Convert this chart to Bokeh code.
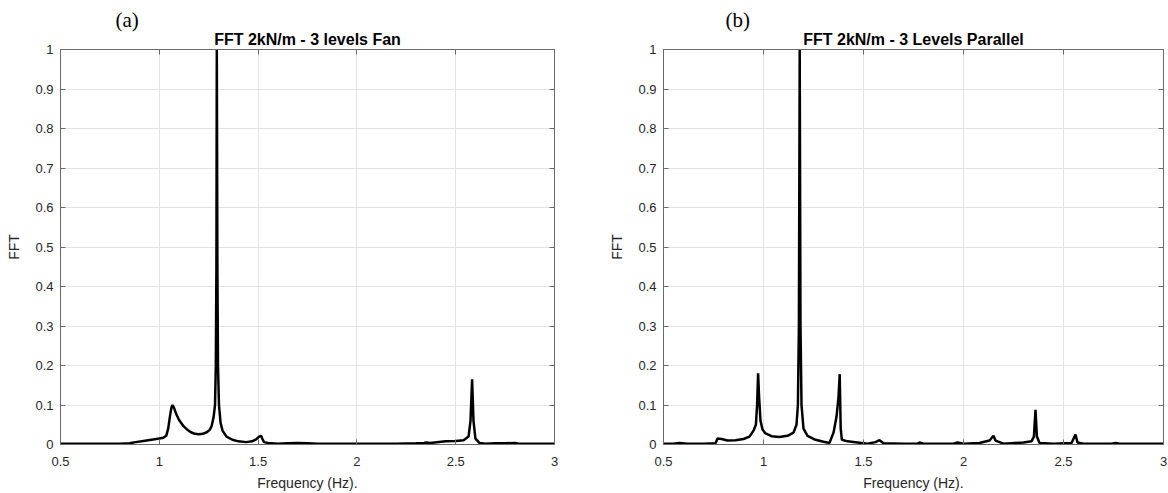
from bokeh.plotting import figure
from bokeh.models import LinearAxis, Range1d, FixedTicker, PrintfTickFormatter, Title, CustomJSTickFormatter
from bokeh.layouts import row
from bokeh.embed import file_html
from bokeh.resources import INLINE

# ---- data ----
freq_a = [0.5, 0.55, 0.6, 0.65, 0.7, 0.75, 0.8, 0.85, 0.88, 0.92, 0.96, 1.0, 1.02, 1.035,
          1.045, 1.055, 1.062, 1.067, 1.075, 1.085, 1.1, 1.12, 1.14, 1.16, 1.18, 1.2, 1.22,
          1.24, 1.255, 1.265, 1.275, 1.282, 1.286, 1.289, 1.291, 1.294, 1.297, 1.302, 1.31,
          1.32, 1.34, 1.37, 1.4, 1.44, 1.47, 1.49, 1.505, 1.515, 1.522, 1.53, 1.55, 1.6,
          1.65, 1.7, 1.75, 1.8, 1.9, 2.0, 2.1, 2.2, 2.3, 2.34, 2.35, 2.37, 2.45, 2.5, 2.54,
          2.565, 2.575, 2.583, 2.59, 2.6, 2.62, 2.65, 2.7, 2.75, 2.8, 2.82, 2.9, 3.0]
fft_a = [0.002, 0.002, 0.002, 0.002, 0.002, 0.002, 0.002, 0.003, 0.006, 0.009, 0.012, 0.015,
         0.017, 0.022, 0.04, 0.075, 0.095, 0.1, 0.092, 0.078, 0.062, 0.048, 0.038, 0.031,
         0.027, 0.026, 0.027, 0.031, 0.037, 0.047, 0.07, 0.1, 0.2, 0.45, 1.0, 0.45, 0.2,
         0.1, 0.055, 0.035, 0.02, 0.012, 0.008, 0.006, 0.008, 0.013, 0.02, 0.022, 0.014,
         0.006, 0.004, 0.002, 0.003, 0.004, 0.003, 0.002, 0.002, 0.002, 0.002, 0.002,
         0.003, 0.004, 0.005, 0.004, 0.008, 0.009, 0.011, 0.02, 0.06, 0.165, 0.06, 0.015,
         0.004, 0.002, 0.003, 0.003, 0.004, 0.002, 0.002, 0.002]

freq_b = [0.5, 0.55, 0.58, 0.62, 0.7, 0.76, 0.77, 0.79, 0.82, 0.86, 0.9, 0.93, 0.95, 0.962,
          0.968, 0.973, 0.978, 0.985, 0.995, 1.01, 1.04, 1.08, 1.12, 1.15, 1.165, 1.172,
          1.177, 1.181, 1.185, 1.19, 1.2, 1.22, 1.26, 1.3, 1.33, 1.35, 1.365, 1.375, 1.381,
          1.386, 1.392, 1.42, 1.47, 1.52, 1.56, 1.58, 1.6, 1.7, 1.77, 1.78, 1.8, 1.95, 1.97,
          2.0, 2.08, 2.13, 2.15, 2.16, 2.18, 2.2, 2.3, 2.34, 2.352, 2.36, 2.367, 2.38, 2.45,
          2.54, 2.56, 2.57, 2.6, 2.74, 2.76, 2.78, 3.0]
fft_b = [0.002, 0.002, 0.004, 0.002, 0.002, 0.003, 0.015, 0.014, 0.01, 0.011, 0.014, 0.02,
         0.035, 0.05, 0.1, 0.18, 0.12, 0.06, 0.038, 0.028, 0.021, 0.019, 0.022, 0.03, 0.05,
         0.1, 0.3, 1.0, 0.3, 0.1, 0.04, 0.022, 0.012, 0.007, 0.004, 0.03, 0.07, 0.12, 0.178,
         0.04, 0.012, 0.008, 0.005, 0.002, 0.006, 0.011, 0.003, 0.002, 0.002, 0.005, 0.002,
         0.002, 0.005, 0.002, 0.004, 0.01, 0.022, 0.01, 0.006, 0.002, 0.005, 0.008, 0.02,
         0.088, 0.02, 0.004, 0.002, 0.004, 0.025, 0.005, 0.002, 0.002, 0.004, 0.002, 0.002]

x_ticks = [0.5, 1.0, 1.5, 2.0, 2.5, 3.0]
y_ticks = [0, 0.1, 0.2, 0.3, 0.4, 0.5, 0.6, 0.7, 0.8, 0.9, 1.0]
titles = ["FFT 2kN/m - 3 levels Fan", "FFT 2kN/m - 3 Levels Parallel"]
tags = ["(a)", "(b)"]
x_label = "Frequency (Hz)."
y_label = "FFT"

AX = "#6a6a6a"
TXT = "#262626"
FONT = "Liberation Sans"


def style_axis(ax):
    ax.major_tick_in = 5
    ax.major_tick_out = 0
    ax.minor_tick_line_color = None
    ax.axis_line_color = AX
    ax.major_tick_line_color = AX
    ax.major_label_text_font = FONT
    ax.major_label_text_font_size = "13px"
    ax.major_label_text_color = TXT


def make(fx, fy, title, tag, width, mbl, mbr, tag_off):
    p = figure(width=width, height=493, x_range=Range1d(0.5, 3), y_range=Range1d(0, 1),
               output_backend="svg", toolbar_location=None,
               min_border_left=mbl, min_border_right=mbr,
               min_border_top=49, min_border_bottom=49)
    p.outline_line_color = AX
    p.background_fill_color = "white"
    p.border_fill_color = "white"

    xt = FixedTicker(ticks=x_ticks)
    yt = FixedTicker(ticks=y_ticks)

    p.xaxis.ticker = xt
    p.yaxis.ticker = yt
    p.xaxis.formatter = PrintfTickFormatter(format="%g")
    p.yaxis.formatter = PrintfTickFormatter(format="%g")
    for ax in p.xaxis + p.yaxis:
        style_axis(ax)
    p.xaxis.major_label_standoff = 12
    p.yaxis.major_label_standoff = 7
    p.xaxis.axis_label = x_label
    p.yaxis.axis_label = y_label
    for ax in p.xaxis + p.yaxis:
        ax.axis_label_text_font = FONT
        ax.axis_label_text_font_size = "14px"
        ax.axis_label_text_font_style = "normal"
        ax.axis_label_text_color = TXT
    p.xaxis.axis_label_standoff = 6
    p.yaxis.axis_label_standoff = 10

    blank = CustomJSTickFormatter(code="return ''")
    top = LinearAxis(ticker=FixedTicker(ticks=x_ticks), formatter=blank)
    right = LinearAxis(ticker=FixedTicker(ticks=y_ticks), formatter=blank)
    style_axis(top)
    style_axis(right)
    top.major_label_standoff = 0
    right.major_label_standoff = 0
    p.add_layout(top, "above")
    p.add_layout(right, "right")

    p.add_layout(Title(text=title, align="center", text_font=FONT, text_font_size="16px",
                       text_font_style="bold", text_color="black", standoff=3), "above")
    p.add_layout(Title(text=tag, align="left", offset=tag_off, text_font="Liberation Serif",
                       text_font_size="21px", text_font_style="normal",
                       text_color="black", standoff=-8), "above")

    p.xgrid.ticker = xt
    p.ygrid.ticker = yt
    p.xgrid.grid_line_color = "#e3e3e3"
    p.ygrid.grid_line_color = "#e3e3e3"

    p.line(fx, fy, line_color="black", line_width=2.5)
    return p


pa = make(freq_a, fft_a, titles[0], tags[0], 590, 60, 36, 55)
pb = make(freq_b, fft_b, titles[1], tags[1], 578, 73, 5, 62)

layout = row(pa, pb, spacing=0)
open("out.html", "w").write(file_html(layout, INLINE))
